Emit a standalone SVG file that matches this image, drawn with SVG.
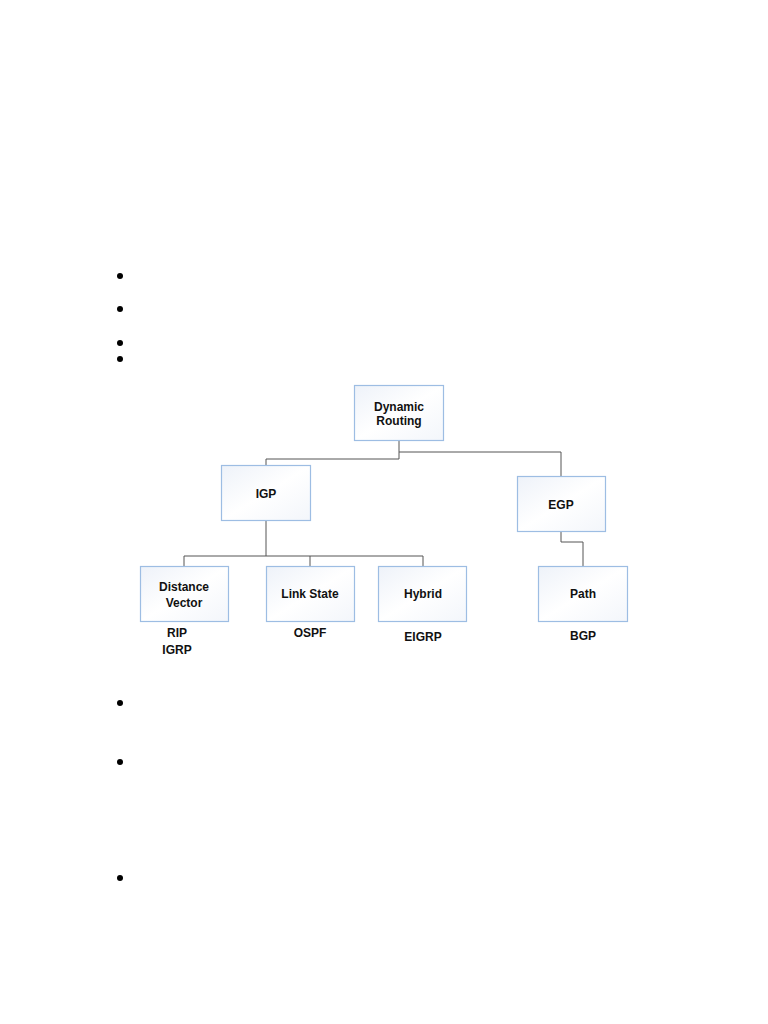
<svg xmlns="http://www.w3.org/2000/svg" width="768" height="1024" viewBox="0 0 768 1024">
<defs>
<linearGradient id="g" x1="0" y1="0" x2="1" y2="1">
<stop offset="0" stop-color="#eef2f9"/>
<stop offset="0.5" stop-color="#ffffff"/>
<stop offset="1" stop-color="#f3f6fb"/>
</linearGradient>
<style>
.box{fill:url(#g);stroke:#9dbde3;stroke-width:1.2}
.t{font-family:"Liberation Sans",Arial,sans-serif;font-weight:bold;font-size:12px;fill:#111;text-anchor:middle}
.c{fill:none;stroke:#555;stroke-width:1}
</style>
</defs>
<rect width="768" height="1024" fill="#fff"/>
<g id="bullets" fill="#000">
<circle cx="120" cy="276" r="3"/>
<circle cx="120" cy="309" r="3"/>
<circle cx="120" cy="343" r="3"/>
<circle cx="120" cy="359" r="3"/>
<circle cx="120" cy="703" r="3"/>
<circle cx="120" cy="762" r="3"/>
<circle cx="120" cy="878" r="3"/>
</g>
<g id="connectors">
<path class="c" d="M399 440 V459 H266 V465"/>
<path class="c" d="M399 452 H561 V476"/>
<path class="c" d="M266 521 V556"/>
<path class="c" d="M184 566 V556 H423 V566"/>
<path class="c" d="M310 556 V566"/>
<path class="c" d="M561 531 V542 H583 V566"/>
</g>
<g id="dynamic">
<rect class="box" x="354.5" y="385.5" width="89" height="55"/>
<text class="t" x="399" y="411">Dynamic</text>
<text class="t" x="399" y="425">Routing</text>
</g>
<g id="igp">
<rect class="box" x="221.5" y="465.5" width="89" height="55"/>
<text class="t" x="266" y="498">IGP</text>
</g>
<g id="egp">
<rect class="box" x="517.5" y="476.5" width="88" height="55"/>
<text class="t" x="561" y="509">EGP</text>
</g>
<g id="distance">
<rect class="box" x="140.5" y="566.5" width="88" height="55"/>
<text class="t" x="184" y="591">Distance</text>
<text class="t" x="184" y="607">Vector</text>
</g>
<g id="linkstate">
<rect class="box" x="266.5" y="566.5" width="88" height="55"/>
<text class="t" x="310" y="598">Link State</text>
</g>
<g id="hybrid">
<rect class="box" x="378.5" y="566.5" width="88" height="55"/>
<text class="t" x="423" y="598">Hybrid</text>
</g>
<g id="path">
<rect class="box" x="538.5" y="566.5" width="89" height="55"/>
<text class="t" x="583" y="598">Path</text>
</g>
<g id="labels">
<text class="t" x="177" y="637">RIP</text>
<text class="t" x="177" y="654">IGRP</text>
<text class="t" x="310" y="637">OSPF</text>
<text class="t" x="423" y="641">EIGRP</text>
<text class="t" x="583" y="640">BGP</text>
</g>
</svg>
